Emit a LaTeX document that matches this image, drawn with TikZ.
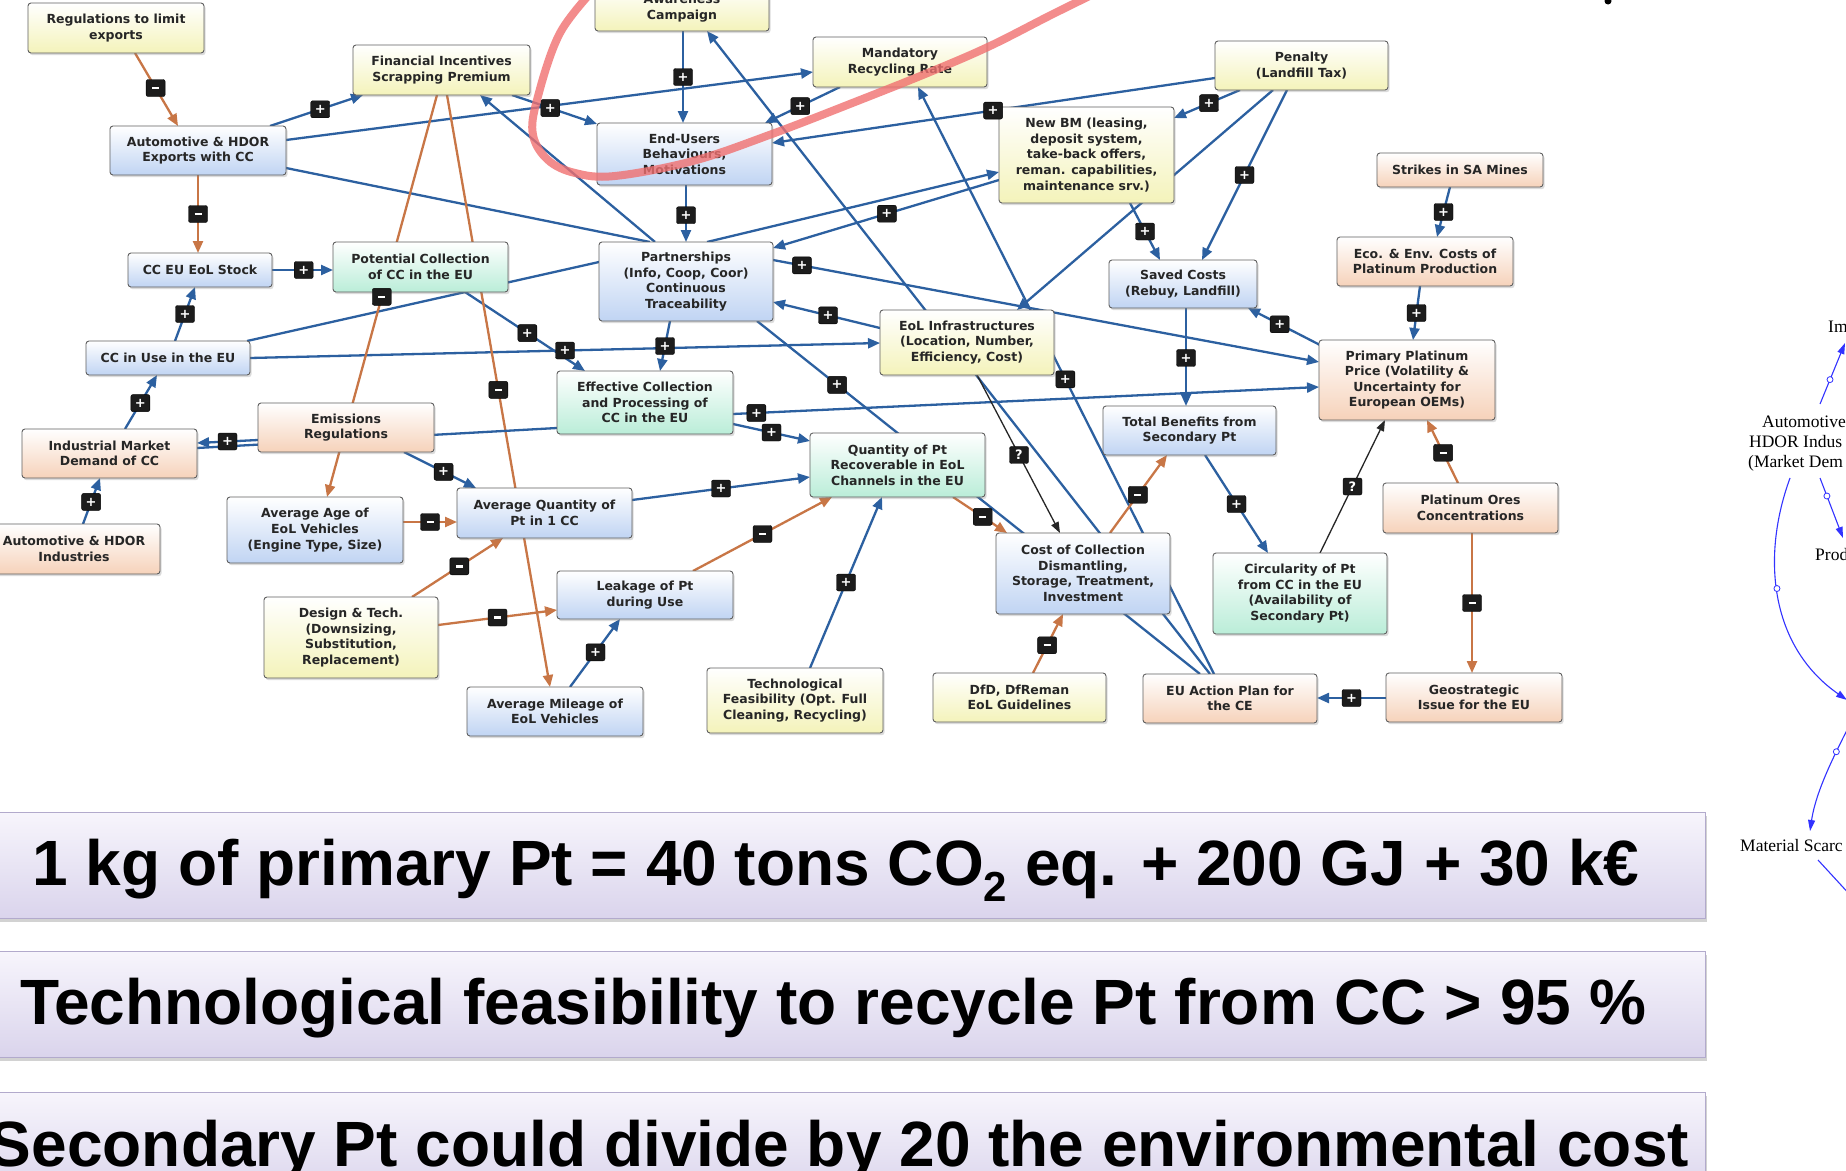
\documentclass[tikz,border=0pt]{standalone}
\usepackage{fontspec}
\setmainfont{DejaVu Sans}
\newfontfamily\bandfont{Liberation Sans}
\newfontfamily\vfont{Liberation Serif}
\usetikzlibrary{arrows.meta,calc,shadows}
\pgfdeclarelayer{bgfill}
\pgfdeclarelayer{edgelayer}
\pgfsetlayers{bgfill,edgelayer,main}
\definecolor{blu}{RGB}{44,96,160}
\definecolor{org}{RGB}{200,118,70}
\definecolor{nbord}{RGB}{95,95,95}
\definecolor{ntxt}{RGB}{38,38,38}
\definecolor{cylw}{RGB}{244,243,186}
\definecolor{cblu}{RGB}{192,212,243}
\definecolor{cpch}{RGB}{246,210,186}
\definecolor{cgrn}{RGB}{186,237,216}
\definecolor{labc}{RGB}{28,28,28}
\definecolor{bandtop}{RGB}{247,245,252}
\definecolor{bandbot}{RGB}{218,212,236}
\definecolor{bandline}{RGB}{178,170,204}
\definecolor{redc}{RGB}{240,112,112}
\definecolor{vblue}{RGB}{50,50,255}
\newcommand{\mlab}{\rule{7pt}{2.4pt}}
\tikzset{
 bx/.style={draw=nbord, line width=0.9pt, rounded corners=3pt, align=center, text=ntxt, inner sep=1pt,
   font=\bfseries\fontsize{12.5}{15.6}\selectfont,
   drop shadow={opacity=0.28, shadow xshift=1.6pt, shadow yshift=-2.2pt}},
 yb/.style={bx, top color=white, bottom color=cylw, middle color=white!50!cylw},
 bb/.style={bx, top color=white, bottom color=cblu, middle color=white!50!cblu},
 pb/.style={bx, top color=white, bottom color=cpch, middle color=white!50!cpch},
 gb/.style={bx, top color=white, bottom color=cgrn, middle color=white!50!cgrn},
 pl/.style={draw=blu, line width=2.3pt, -{Triangle[length=12pt,width=10pt]}},
 mn/.style={draw=org, line width=2.3pt, -{Triangle[length=12pt,width=10pt]}},
 qq/.style={draw=black!85, line width=1.3pt, -{Triangle[length=11pt,width=8pt]}},
 plainl/.style={draw=blu, line width=2.3pt},
 lab/.style={fill=labc, draw=black, line width=0.4pt, rounded corners=2pt, minimum width=19pt, minimum height=17pt, inner sep=0pt, text=white, font=\bfseries\fontsize{13}{13}\selectfont},
 band/.style={draw=bandline, line width=1pt, top color=bandtop, bottom color=bandbot, minimum width=1720pt, minimum height=106pt, inner sep=0pt,
   drop shadow={opacity=0.35, shadow xshift=2pt, shadow yshift=-4pt}},
 bt/.style={font=\bandfont\bfseries\fontsize{64}{70}\selectfont, text=black, inner sep=0pt, anchor=base},
 vt/.style={font=\vfont\fontsize{17.5}{20}\selectfont, inner sep=0pt, anchor=base west, text=black},
 vl/.style={draw=vblue, line width=1.1pt, -{Triangle[length=11pt,width=7pt]}},
 vc/.style={circle, draw=vblue, fill=white, line width=0.8pt, minimum size=6pt, inner sep=0pt}
}
\begin{document}
\begin{tikzpicture}[x=1pt,y=-1pt]
\path[use as bounding box] (0,0) rectangle (1846,1170);
\begin{pgfonlayer}{bgfill}
\fill[white] (0,0) rectangle (1846,1170);
\end{pgfonlayer}

% ---------------- nodes
\node[yb, minimum width=176pt, minimum height=50pt] (regexp) at (116,28) {Regulations to limit\\exports};
\node[bb, minimum width=176pt, minimum height=49pt] (autoexp) at (198,150.5) {Automotive \& HDOR\\Exports with CC};
\node[bb, minimum width=144pt, minimum height=34pt] (eolstock) at (200,270) {CC EU EoL Stock};
\node[bb, minimum width=164pt, minimum height=34pt] (ccuse) at (168,358) {CC in Use in the EU};
\node[yb, minimum width=177pt, minimum height=50pt] (fininc) at (441.5,70) {Financial Incentives\\Scrapping Premium};
\node[gb, minimum width=175pt, minimum height=50pt] (potcoll) at (420.5,267) {Potential Collection\\of CC in the EU};
\node[yb, minimum width=174pt, minimum height=45pt] (aware) at (682,8.5) {Awareness\\Campaign};
\node[bb, minimum width=175pt, minimum height=62pt] (endusers) at (684.5,154) {End-Users\\Behaviours,\\Motivations};
\node[yb, minimum width=174pt, minimum height=50pt] (mandatory) at (900,62) {Mandatory\\Recycling Rate};
\node[bb, minimum width=174pt, minimum height=79pt] (partner) at (686,281.5) {Partnerships\\(Info, Coop, Coor)\\Continuous\\Traceability};
\node[yb, minimum width=173pt, minimum height=49pt] (penalty) at (1301.5,65.5) {Penalty\\(Landfill Tax)};
\node[yb, minimum width=175pt, minimum height=96pt] (newbm) at (1086.5,155) {New BM (leasing,\\deposit system,\\take-back offers,\\reman. capabilities,\\maintenance srv.)};
\node[bb, minimum width=148pt, minimum height=48pt] (saved) at (1183,284) {Saved Costs\\(Rebuy, Landfill)};
\node[pb, minimum width=176pt, minimum height=49pt] (ecoenv) at (1425,261.5) {Eco. \& Env. Costs of\\Platinum Production};
\node[pb, minimum width=166pt, minimum height=34pt] (strikes) at (1460,170) {Strikes in SA Mines};
\node[pb, minimum width=176pt, minimum height=80pt] (primprice) at (1407,380) {Primary Platinum\\Price (Volatility \&\\Uncertainty for\\European OEMs)};
\node[pb, minimum width=175pt, minimum height=49pt] (indmarket) at (109.5,453.5) {Industrial Market\\Demand of CC};
\node[pb, minimum width=172pt, minimum height=50pt] (autoind) at (74,549) {Automotive \& HDOR\\Industries};
\node[pb, minimum width=176pt, minimum height=49pt] (emissions) at (346,427.5) {Emissions\\Regulations};
\node[bb, minimum width=176pt, minimum height=66pt] (avgage) at (315,530) {Average Age of\\EoL Vehicles\\(Engine Type, Size)};
\node[yb, minimum width=174pt, minimum height=81pt] (design) at (351,637.5) {Design \& Tech.\\(Downsizing,\\Substitution,\\Replacement)};
\node[bb, minimum width=175pt, minimum height=50pt] (avgqty) at (544.5,513) {Average Quantity of\\Pt in 1 CC};
\node[gb, minimum width=176pt, minimum height=63pt] (effcoll) at (645,402.5) {Effective Collection\\and Processing of\\CC in the EU};
\node[bb, minimum width=176pt, minimum height=48pt] (leakage) at (645,595) {Leakage of Pt\\during Use};
\node[bb, minimum width=176pt, minimum height=49pt] (avgmile) at (555,711.5) {Average Mileage of\\EoL Vehicles};
\node[yb, minimum width=176pt, minimum height=65pt] (techfeas) at (795,700.5) {Technological\\Feasibility (Opt. Full\\Cleaning, Recycling)};
\node[gb, minimum width=175pt, minimum height=64pt] (qtypt) at (897.5,465) {Quantity of Pt\\Recoverable in EoL\\Channels in the EU};
\node[yb, minimum width=174pt, minimum height=65pt] (eolinfra) at (967,342.5) {EoL Infrastructures\\(Location, Number,\\Efficiency, Cost)};
\node[bb, minimum width=173pt, minimum height=49pt] (totalben) at (1189.5,430.5) {Total Benefits from\\Secondary Pt};
\node[bb, minimum width=174pt, minimum height=81pt] (costcoll) at (1083,573.5) {Cost of Collection\\Dismantling,\\Storage, Treatment,\\Investment};
\node[gb, minimum width=174pt, minimum height=81pt] (circ) at (1300,593.5) {Circularity of Pt\\from CC in the EU\\(Availability of\\Secondary Pt)};
\node[yb, minimum width=173pt, minimum height=49pt] (dfd) at (1019.5,697.5) {DfD, DfReman\\EoL Guidelines};
\node[pb, minimum width=174pt, minimum height=49pt] (euaction) at (1230,698.5) {EU Action Plan for\\the CE};
\node[pb, minimum width=175pt, minimum height=50pt] (ptores) at (1470.5,508) {Platinum Ores\\Concentrations};
\node[pb, minimum width=176pt, minimum height=49pt] (geostrat) at (1474,697.5) {Geostrategic\\Issue for the EU};

% ---------------- connectors (behind the boxes)
\begin{pgfonlayer}{edgelayer}
\draw[mn] ($(regexp)+(19,25)$) -- coordinate[pos=.48] (l1) ($(autoexp)+(-20,-24.5)$);
\draw[mn] ($(autoexp)+(0,24.5)$) -- coordinate[pos=.5] (l2) ($(eolstock)+(-2,-17)$);
\draw[pl] ($(autoexp)+(72,-24.5)$) -- coordinate[pos=.54] (l3) ($(fininc)+(-78.5,25)$);
\draw[pl] ($(autoexp)+(88,-10.5)$) -- ($(mandatory)+(-87,10)$);
\draw[pl] ($(fininc)+(70.5,25)$) -- coordinate[pos=.45] (l5) ($(endusers)+(-87.5,-30)$);
\draw[pl] ($(aware)+(1,22.5)$) -- coordinate[pos=.5] (l6) ($(endusers)+(-1.5,-31)$);
\draw[pl] ($(euaction)+(-20,-24.5)$) -- ($(aware)+(25,22.5)$);
\draw[pl] ($(euaction)+(-16,-24.5)$) -- coordinate[pos=.502] (l8) ($(mandatory)+(18,25)$);
\draw[plainl] ($(euaction)+(-30,-24.5)$) -- coordinate[pos=.819] (l9) ($(partner)+(71,39.5)$);
\draw[pl] ($(endusers)+(1.5,31)$) -- coordinate[pos=.53] (l10) ($(partner)+(0,-39.5)$);
\draw[plainl] ($(autoexp)+(88,17.5)$) -- ($(partner)+(-36,-39.5)$);
\draw[pl] ($(partner)+(-31,-39.5)$) -- ($(fininc)+(38.5,25)$);
\draw[pl] ($(partner)+(21,-39.5)$) -- ($(newbm)+(-87.5,17)$);
\draw[pl] ($(newbm)+(-87.5,25)$) -- coordinate[pos=.496] (l14) ($(partner)+(87,-33.5)$);
\draw[pl] ($(penalty)+(-86.5,12.5)$) -- coordinate[pos=.501] (l15) ($(endusers)+(87.5,-11)$);
\draw[pl] ($(mandatory)+(-60,25)$) -- coordinate[pos=.53] (l16) ($(endusers)+(80.5,-31)$);
\draw[pl] ($(penalty)+(-61.5,24.5)$) -- coordinate[pos=.47] (l17) ($(newbm)+(87.5,-37)$);
\draw[pl] ($(penalty)+(-14.5,24.5)$) -- coordinate[pos=.5] (l18) ($(saved)+(19,-24)$);
\draw[pl] ($(penalty)+(-28.5,24.5)$) -- ($(eolinfra)+(50,-32.5)$);
\draw[pl] ($(newbm)+(43.5,48)$) -- coordinate[pos=.5] (l20) ($(saved)+(-23,-24)$);
\draw[pl] ($(strikes)+(-10,17)$) -- coordinate[pos=.5] (l21) ($(ecoenv)+(12,-24.5)$);
\draw[pl] ($(ecoenv)+(-5,24.5)$) -- coordinate[pos=.5] (l22) ($(primprice)+(6,-40)$);
\draw[pl] ($(primprice)+(-87,-35)$) -- coordinate[pos=.56] (l23) ($(saved)+(65,24)$);
\draw[pl] ($(partner)+(87,-21.5)$) -- coordinate[pos=.053] (l24) ($(primprice)+(-88,-18)$);
\draw[pl] ($(eolinfra)+(-87,-14.5)$) -- coordinate[pos=.486] (l25) ($(partner)+(87,20.5)$);
\draw[pl] ($(partner)+(-16,39.5)$) -- coordinate[pos=.5] (l26) ($(effcoll)+(15,-31.5)$);
\draw[pl] ($(potcoll)+(44.5,25)$) -- coordinate[pos=.52] (l27) ($(effcoll)+(-60,-31.5)$);
\draw[pl] ($(ccuse)+(82,0)$) -- coordinate[pos=.5] (l28) ($(eolinfra)+(-87,0.5)$);
\draw[plainl] ($(ccuse)+(79,-17)$) -- ($(partner)+(-87,-19.5)$);
\draw[pl] ($(eolstock)+(72,0)$) -- coordinate[pos=.52] (l30) ($(potcoll)+(-87.5,3)$);
\draw[pl] ($(ccuse)+(7,-17)$) -- coordinate[pos=.5] (l31) ($(eolstock)+(-5,17)$);
\draw[mn] ($(fininc)+(-4.5,25)$) -- coordinate[pos=.502] (l32) ($(avgage)+(12,-33)$);
\draw[mn] ($(fininc)+(5.5,25)$) -- coordinate[pos=.498] (l33) ($(avgmile)+(-5,-24.5)$);
\draw[pl] ($(indmarket)+(15.5,-24.5)$) -- coordinate[pos=.48] (l34) ($(ccuse)+(-11,17)$);
\draw[pl] ($(emissions)+(-88,12.5)$) -- coordinate[pos=.5] (l35) ($(indmarket)+(87.5,-10.5)$);
\draw[plainl] ($(effcoll)+(-88,25.5)$) -- ($(indmarket)+(87.5,-5.5)$);
\draw[pl] ($(autoind)+(9,-25)$) -- coordinate[pos=.48] (l37) ($(indmarket)+(-9.5,24.5)$);
\draw[pl] ($(emissions)+(58,24.5)$) -- coordinate[pos=.55] (l38) ($(avgqty)+(-68.5,-25)$);
\draw[mn] ($(avgage)+(88,-8)$) -- coordinate[pos=.5] (l39) ($(avgqty)+(-87.5,9)$);
\draw[mn] ($(design)+(61,-40.5)$) -- coordinate[pos=.52] (l40) ($(avgqty)+(-41.5,25)$);
\draw[mn] ($(design)+(87,-12.5)$) -- coordinate[pos=.5] (l41) ($(leakage)+(-88,15)$);
\draw[pl] ($(avgmile)+(15,-24.5)$) -- coordinate[pos=.51] (l42) ($(leakage)+(-25,24)$);
\draw[pl] ($(avgqty)+(87.5,-13)$) -- coordinate[pos=.5] (l43) ($(qtypt)+(-87.5,12)$);
\draw[mn] ($(leakage)+(48,-24)$) -- coordinate[pos=.5] (l44) ($(qtypt)+(-65.5,32)$);
\draw[pl] ($(techfeas)+(15,-32.5)$) -- coordinate[pos=.5] (l45) ($(qtypt)+(-15.5,32)$);
\draw[pl] ($(effcoll)+(88,21.5)$) -- coordinate[pos=.5] (l46) ($(qtypt)+(-87.5,-24)$);
\draw[pl] ($(effcoll)+(88,11.5)$) -- coordinate[pos=.04] (l47) ($(primprice)+(-88,7)$);
\draw[qq] ($(eolinfra)+(10,32.5)$) -- coordinate[pos=.506] (l48) ($(costcoll)+(-23,-40.5)$);
\draw[mn] ($(qtypt)+(55.5,32)$) -- coordinate[pos=.55] (l49) ($(costcoll)+(-76,-40.5)$);
\draw[mn] ($(costcoll)+(27,-40.5)$) -- coordinate[pos=.49] (l50) ($(totalben)+(-22.5,24.5)$);
\draw[pl] ($(saved)+(3,24)$) -- coordinate[pos=.51] (l51) ($(totalben)+(-3.5,-24.5)$);
\draw[pl] ($(totalben)+(15.5,24.5)$) -- coordinate[pos=.5] (l52) ($(circ)+(-32,-40.5)$);
\draw[qq] ($(circ)+(20,-40.5)$) -- coordinate[pos=.5] (l53) ($(primprice)+(-22,40)$);
\draw[mn] ($(ptores)+(-12.5,-25)$) -- coordinate[pos=.48] (l54) ($(primprice)+(20,40)$);
\draw[mn] ($(ptores)+(1.5,25)$) -- coordinate[pos=.5] (l55) ($(geostrat)+(-2,-24.5)$);
\draw[pl] ($(geostrat)+(-88,0.5)$) -- coordinate[pos=.5] (l56) ($(euaction)+(87,-0.5)$);
\draw[mn] ($(dfd)+(13.5,-24.5)$) -- coordinate[pos=.47] (l57) ($(costcoll)+(-20,40.5)$);
\end{pgfonlayer}

% ---------------- polarity labels
\foreach \c in {l3,l5,l6,l8,l9,l10,l14,l15,l16,l17,l18,l20,l21,l22,l23,l24,l25,l26,l27,l28,l30,l31,l34,l35,l37,l38,l42,l43,l45,l46,l47,l51,l52,l56}
  \node[lab] at (\c) {+};
\foreach \c in {l1,l2,l32,l33,l39,l40,l41,l44,l49,l50,l54,l55,l57}
  \node[lab] at (\c) {\mlab};
\foreach \c in {l48,l53}
  \node[lab] at (\c) {?};

% ---------------- red annotation loop
\draw[redc, line width=8pt, opacity=0.8, line cap=round] plot[smooth, tension=0.6] coordinates
 {(598,-15) (560,33) (537,100) (533,135) (548,160) (575,173) (615,176) (693,161) (772,134) (860,100) (930,72) (990,46) (1053,14) (1112,-15)};
\fill[black] (1608,1) circle (3.5);

% ---------------- bottom statements
\node[band] (band1) at (845,865) {};
\node[band] (band2) at (845,1004) {};
\node[band] (band3) at (845,1145) {};
\node[bt] (txt1) at (836,885) {1 kg of primary Pt = 40 tons CO\raisebox{-0.25em}{\fontsize{42}{42}\selectfont 2} eq. + 200 GJ + 30 k€};
\node[bt] (txt2) at (833,1024) {Technological feasibility to recycle Pt from CC > 95 \%};
\node[bt] (txt3) at (839,1166) {Secondary Pt could divide by 20 the environmental cost};

% ---------------- partial causal loop diagram at the right edge
\node[vt] (vim) at (1828,332) {Im};
\node[vt] (vauto) at (1762,427) {Automotive};
\node[vt] (vhdor) at (1749,447) {HDOR Indus};
\node[vt] (vmkt) at (1748,467) {(Market Dem};
\node[vt] (vprod) at (1815,560) {Prod};
\node[vt] (vmat) at (1740,851) {Material Scarc};
\coordinate (va3e) at (1847,700);
\coordinate (va4s) at (1850,724);
\coordinate (va5e) at (1852,897);
\draw[vl] ($(vauto.base west)+(58,-23)$) -- node[vc, pos=.4]{} ($(vim.base west)+(17,11)$);
\draw[vl] ($(vmkt.base west)+(72,11)$) -- node[vc, pos=.3]{} ($(vprod.base west)+(28,-22)$);
\draw[vl] ($(vmkt.base west)+(42,11)$) .. controls (1760,560) and (1772,648) .. node[vc, pos=.45]{} (va3e);
\draw[vl] (va4s) .. controls (1836,752) and (1816,790) .. node[vc, pos=.3]{} ($(vmat.base west)+(70,-20)$);
\draw[draw=vblue, line width=1.1pt] ($(vmat.base west)+(78,9)$) -- (va5e);
\end{tikzpicture}
\end{document}
